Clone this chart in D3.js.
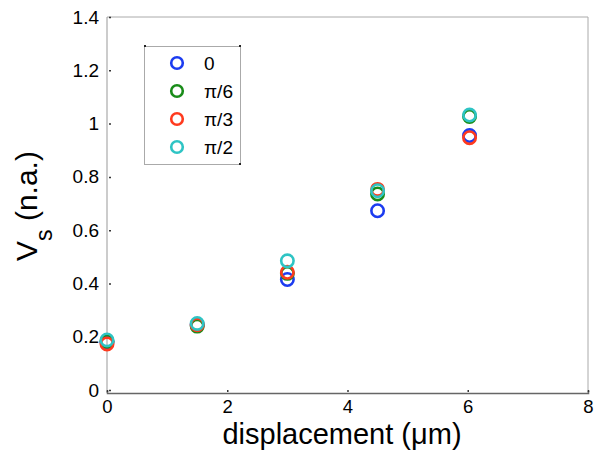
<!DOCTYPE html>
<html><head><meta charset="utf-8">
<script src="https://cdn.jsdelivr.net/npm/d3@7"></script>
<style>body{margin:0;background:#fff}svg{display:block}text{font-family:"Liberation Sans",Arial,sans-serif;fill:#000}</style>
</head><body><svg id="c" width="594" height="454"></svg>
<script>
const displacement = [0, 1.5, 3, 4.5, 6.03];
const seriesNames = ["0", "π/6", "π/3", "π/2"];
const seriesColors = ["#1c3cf0", "#198c19", "#ff3a1e", "#2ec4c4"];
const vBlue  = [0.180, 0.245, 0.415, 0.673, 0.955];
const vGreen = [0.183, 0.240, 0.438, 0.736, 1.027];
const vRed   = [0.173, 0.245, 0.442, 0.753, 0.947];
const vCyan  = [0.188, 0.250, 0.485, 0.748, 1.032];
const xTicks = [0, 2, 4, 6, 8];
const yTicks = [0, 0.2, 0.4, 0.6, 0.8, 1, 1.2, 1.4];

const series = [vBlue, vGreen, vRed, vCyan];
const svg = d3.select("#c");
const L = 107, R = 588, T = 17, B = 393;
const x = d3.scaleLinear().domain([0, 8]).range([L, R]);
const y = d3.scaleLinear().domain([-0.011, 1.4]).range([B, T]);

svg.append("rect").attr("width", 594).attr("height", 454).attr("fill", "#fff");

// box
svg.append("line").attr("x1", L).attr("x2", R).attr("y1", T).attr("y2", T).attr("stroke", "#aaa");
svg.append("line").attr("x1", R).attr("x2", R).attr("y1", T).attr("y2", B).attr("stroke", "#aaa");
svg.append("line").attr("x1", L).attr("x2", L).attr("y1", T).attr("y2", B).attr("stroke", "#999");

// axes
const xAxis = d3.axisBottom(x).tickValues(xTicks).tickSize(-2).tickFormat(d3.format("d")).tickPadding(8);
const gx = svg.append("g").attr("transform", `translate(0,${B})`).call(xAxis);
gx.select(".domain").attr("stroke", "#666").attr("stroke-width", 1.5);
gx.selectAll(".tick line").attr("stroke", "#333").attr("stroke-width", 1.5).attr("transform", "translate(0,-1)");
gx.selectAll(".tick text").attr("font-size", 18.5).attr("font-family", "Liberation Sans, Arial, sans-serif").attr("fill", "#000").attr("y", 20).attr("dy", 0);

const yAxis = d3.axisLeft(y).tickValues(yTicks).tickSize(-2).tickFormat(d => d3.format("")(+d.toFixed(1))).tickPadding(8);
const gy = svg.append("g").attr("transform", `translate(${L},0)`).call(yAxis);
gy.select(".domain").remove();
gy.selectAll(".tick line").attr("stroke", "#333").attr("stroke-width", 1.5).attr("transform", "translate(2,0)");
gy.selectAll(".tick text").attr("font-size", 19).attr("font-family", "Liberation Sans, Arial, sans-serif").attr("fill", "#000").attr("x", -8);

// points
series.forEach((vals, i) => {
  svg.append("g").selectAll("circle").data(vals).join("circle")
    .attr("cx", (d, j) => x(displacement[j]))
    .attr("cy", d => y(d))
    .attr("r", 6.2)
    .attr("fill", "none")
    .attr("stroke", seriesColors[i])
    .attr("stroke-width", 2.6);
});

// legend
const lg = svg.append("g");
lg.append("rect").attr("x", 144.5).attr("y", 46.5).attr("width", 96).attr("height", 118)
  .attr("fill", "#fff").attr("stroke", "#aaa");
[[144, 45], [239, 45], [239, 163]].forEach(p => lg.append("rect").attr("x", p[0]).attr("y", p[1]).attr("width", 2).attr("height", 2).attr("fill", "#222"));
seriesNames.forEach((n, i) => {
  const cy = 63 + i * 28;
  lg.append("circle").attr("cx", 177).attr("cy", cy).attr("r", 5.8)
    .attr("fill", "none").attr("stroke", seriesColors[i]).attr("stroke-width", 2.6);
  lg.append("text").attr("x", 204).attr("y", cy).attr("dy", "0.35em").attr("font-size", 19).text(n);
});

// axis labels
svg.append("text").attr("x", 342).attr("y", 444).attr("text-anchor", "middle").attr("font-size", 29)
  .text("displacement (μm)");
const yl = svg.append("text").attr("transform", "translate(37,206) rotate(-90)").attr("text-anchor", "middle").attr("font-size", 30);
yl.append("tspan").text("V");
yl.append("tspan").attr("font-size", 23).attr("dy", 15).text("s");
yl.append("tspan").attr("dy", -15).text(" (n.a.)");
</script></body></html>
